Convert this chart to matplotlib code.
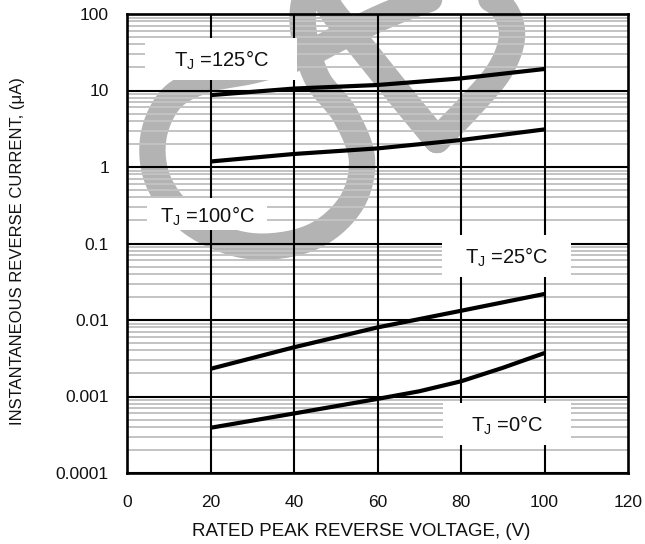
import numpy as np
import matplotlib
matplotlib.use("Agg")
import matplotlib.pyplot as plt
from matplotlib.lines import Line2D
from matplotlib.patches import Rectangle
from matplotlib.ticker import FixedLocator, NullFormatter, LogLocator

plt.rcParams['font.family'] = ['Liberation Sans', 'DejaVu Sans']
plt.rcParams['mathtext.fontset'] = 'custom'
plt.rcParams['mathtext.rm'] = 'Liberation Sans'
plt.rcParams['mathtext.it'] = 'Liberation Sans'

# ---- data ----
voltage = [20, 40, 60, 80, 100]
i_125 = [8.7, 10.6, 11.8, 14.4, 19.1]
i_100 = [1.18, 1.48, 1.75, 2.25, 3.1]
i_25 = [0.0023, 0.0044, 0.0080, 0.0132, 0.0219]
voltage_0 = [20, 40, 60, 70, 80, 90, 100]
i_0 = [0.00039, 0.0006, 0.00093, 0.00117, 0.00158, 0.00237, 0.0037]

x_ticks = [0, 20, 40, 60, 80, 100, 120]
y_ticks = [0.0001, 0.001, 0.01, 0.1, 1, 10, 100]
y_tick_labels = ["0.0001", "0.001", "0.01", "0.1", "1", "10", "100"]
labels = ["125", "100", "25", "0"]

W, H = 645, 544
fig = plt.figure(figsize=(W / 100, H / 100), dpi=100)

# ---- watermark (decoration, in figure pixels) ----
def catmull(pts, n=16):
    pts = np.asarray(pts, float)
    p = np.vstack([pts[0], pts, pts[-1]])
    out = []
    for i in range(1, len(p) - 2):
        p0, p1, p2, p3 = p[i - 1], p[i], p[i + 1], p[i + 2]
        t = np.linspace(0, 1, n, endpoint=False)[:, None]
        out.append(0.5 * ((2 * p1) + (-p0 + p2) * t + (2 * p0 - 5 * p1 + 4 * p2 - p3) * t ** 2
                          + (-p0 + 3 * p1 - 3 * p2 + p3) * t ** 3))
    out.append(p[-2][None, :])
    return np.vstack(out)

wm = [(437, 140), (470, 106), (500, 70), (512, 36), (503, 8), (478, -6), (448, -6), (415, 4),
      (380, 18), (345, 35), (305, 55), (255, 70), (205, 80), (170, 100), (153, 140), (160, 185),
      (195, 225), (250, 246), (310, 238), (350, 205), (362, 160), (345, 115), (318, 80),
      (305, 40), (303, 10), (310, -12), (322, -14), (330, 8), (360, 45), (400, 95), (437, 140)]
c = catmull(wm)
fig.add_artist(Line2D(c[:, 0] / W, 1 - c[:, 1] / H, transform=fig.transFigure,
                      color='#b3b3b3', lw=19, solid_capstyle='round', solid_joinstyle='round',
                      zorder=-5))

# ---- axes ----
x0, x1, ytop, ybot = 127, 628, 14, 473
ax = fig.add_axes([x0 / W, (H - ybot) / H, (x1 - x0) / W, (ybot - ytop) / H])
ax.set_facecolor('none')
ax.set_yscale('log')
ax.set_xlim(0, 120)
ax.set_ylim(1e-4, 100)

ax.xaxis.set_major_locator(FixedLocator(x_ticks))
ax.set_xticklabels([str(v) for v in x_ticks])
ax.yaxis.set_major_locator(FixedLocator(y_ticks))
ax.set_yticklabels(y_tick_labels)
ax.yaxis.set_minor_locator(LogLocator(base=10, subs=np.arange(2, 10)))
ax.yaxis.set_minor_formatter(NullFormatter())

ax.tick_params(axis='both', which='both', length=0, labelsize=12.5, colors='#111111')
ax.tick_params(axis='y', pad=13)
ax.tick_params(axis='x', pad=16)

ax.grid(True, axis='y', which='minor', color='#c3c3c3', lw=1.4)
ax.grid(True, axis='y', which='major', color='black', lw=1.5)
ax.set_axisbelow(True)
# vertical grid lines drawn above the gray minor lines
for xv in x_ticks[1:-1]:
    ax.axvline(xv, color='black', lw=1.5, zorder=2)
for s in ax.spines.values():
    s.set_linewidth(1.9)
    s.set_zorder(6)

# curves
for xs, ys in [(voltage, i_125), (voltage, i_100), (voltage, i_25), (voltage_0, i_0)]:
    ax.plot(xs, ys, color='black', lw=3.0, solid_capstyle='butt', zorder=5)

# label boxes (axes fraction)
boxes = {
    "125": (0.036, 0.856, 0.303, 0.092),
    "100": (0.040, 0.529, 0.240, 0.070),
    "25": (0.629, 0.427, 0.257, 0.092),
    "0": (0.631, 0.061, 0.255, 0.092),
}
for lab in labels:
    bx, by, bw, bh = boxes[lab]
    ax.add_patch(Rectangle((bx, by), bw, bh, transform=ax.transAxes, facecolor='white',
                           edgecolor='none', zorder=4))
    ax.text(bx + bw / 2, by + bh / 2 - 0.004, "T$_\\mathregular{J}$ =" + lab + "°C",
            transform=ax.transAxes, ha='center', va='center', fontsize=14.5,
            color='#111111', zorder=4.5)

ax.set_xlabel("RATED PEAK REVERSE VOLTAGE, (V)", fontsize=13.5, color='#111111')
ax.set_ylabel("INSTANTANEOUS REVERSE CURRENT, (μA)", fontsize=12, color='#111111')
ax.yaxis.set_label_coords(-(x0 - 17) / (x1 - x0), (ybot - 251) / (ybot - ytop))
ax.xaxis.set_label_coords((361 - x0) / (x1 - x0), -(531 - ybot) / (ybot - ytop))
ax.xaxis.label.set_va('center')
ax.yaxis.label.set_va('center')

fig.savefig("out.png", dpi=100)
